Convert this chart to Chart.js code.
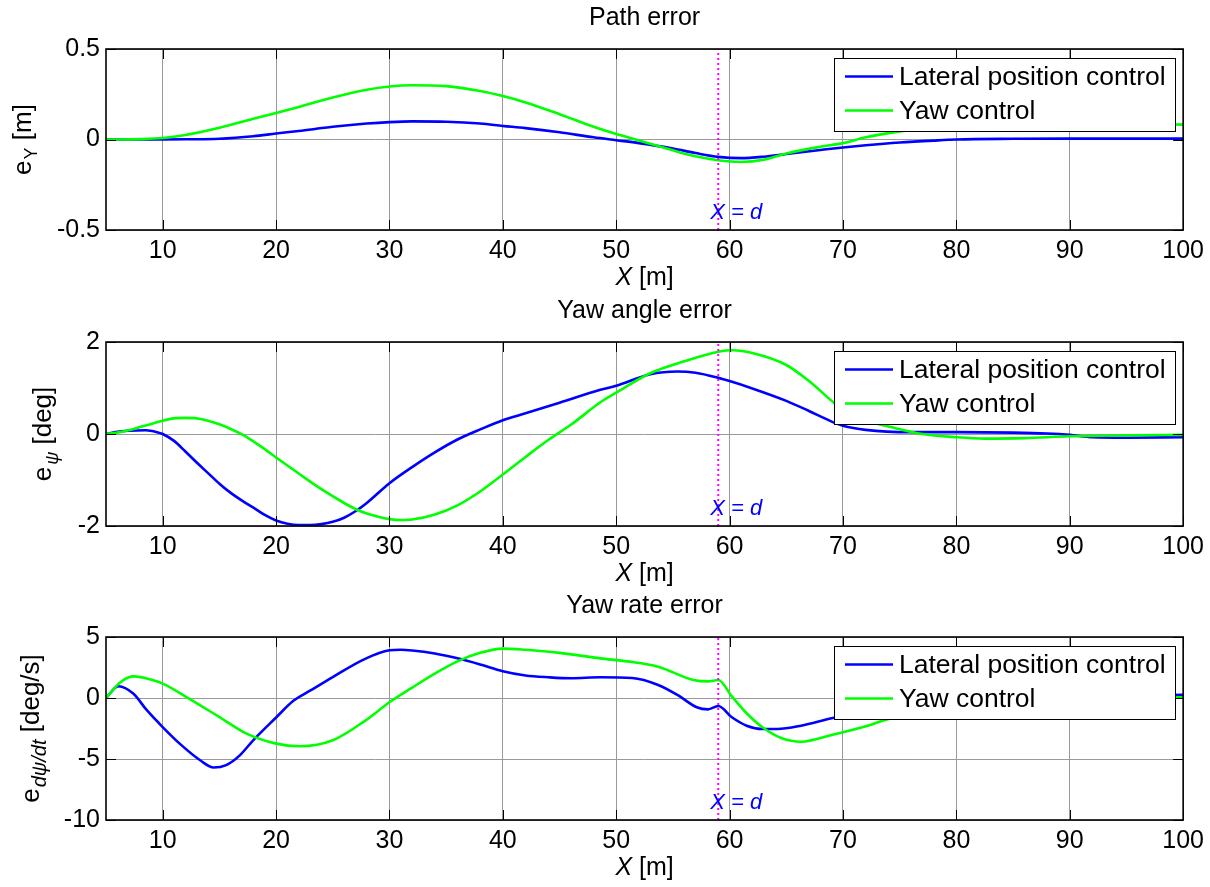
<!DOCTYPE html>
<html>
<head>
<meta charset="utf-8">
<script src="https://cdn.jsdelivr.net/npm/chart.js@4.4.1/dist/chart.umd.min.js"></script>
<style>
html,body{margin:0;padding:0;background:#fff;}
#wrap{position:relative;width:1210px;height:887px;overflow:hidden;background:#fff;}
canvas{position:absolute;left:0;}
</style>
</head>
<body>
<div id="wrap">
<canvas id="c1" width="1210" height="290" style="top:0px"></canvas>
<canvas id="c2" width="1210" height="300" style="top:290px"></canvas>
<canvas id="c3" width="1210" height="297" style="top:590px"></canvas>
</div>
<script>
// ---------- data ----------
const xTicks = [10, 20, 30, 40, 50, 60, 70, 80, 90, 100];
const pathTicks = [-0.5, 0, 0.5];
const angleTicks = [-2, 0, 2];
const rateTicks = [-10, -5, 0, 5];
const seriesNames = ['Lateral position control', 'Yaw control'];
const dPosition = 59;

const pathX = [5, 8, 10, 12, 15, 18, 20, 22, 25, 28, 30, 32, 35, 38, 40, 42, 45, 48, 50, 52, 55, 57, 59, 61, 63, 65, 68, 70, 72, 75, 78, 80, 85, 90, 95, 100];
const pathLateral = [0, 0, 0, 0.001, 0.004, 0.018, 0.033, 0.047, 0.07, 0.088, 0.096, 0.1, 0.098, 0.088, 0.075, 0.063, 0.04, 0.012, -0.004, -0.02, -0.05, -0.075, -0.096, -0.103, -0.095, -0.08, -0.058, -0.044, -0.032, -0.017, -0.006, 0.0, 0.004, 0.005, 0.005, 0.005];
const pathYaw = [0, 0.002, 0.008, 0.025, 0.065, 0.115, 0.147, 0.18, 0.232, 0.275, 0.293, 0.3, 0.295, 0.268, 0.24, 0.205, 0.14, 0.07, 0.03, -0.005, -0.06, -0.093, -0.115, -0.124, -0.112, -0.077, -0.04, -0.02, 0.012, 0.045, 0.068, 0.08, 0.092, 0.092, 0.088, 0.082];

const angleLateralX = [5, 6, 7, 8.5, 9.5, 10, 11, 12, 13, 14, 15, 16, 17, 18, 19, 20, 21, 22, 23, 24, 25, 26, 27, 28, 30, 32, 34, 36, 38, 40, 42, 45, 48.6, 50, 53, 55.4, 57, 59, 60, 62, 65, 67, 69, 70, 72, 76, 80, 85, 88, 90, 92, 95, 100];
const angleLateral = [0, 0.05, 0.07, 0.08, 0.04, 0.0, -0.15, -0.38, -0.62, -0.85, -1.08, -1.28, -1.45, -1.6, -1.76, -1.88, -1.95, -1.98, -1.98, -1.96, -1.91, -1.82, -1.68, -1.5, -1.07, -0.72, -0.4, -0.12, 0.1, 0.3, 0.45, 0.68, 0.96, 1.05, 1.3, 1.36, 1.33, 1.22, 1.15, 0.99, 0.72, 0.5, 0.27, 0.18, 0.09, 0.04, 0.04, 0.03, 0.01, -0.02, -0.07, -0.08, -0.07];
const angleYawX = [5, 6, 7, 8, 9, 10, 11, 12, 13, 14, 15, 16, 17, 18, 19, 20, 22, 24, 26, 27, 28, 29, 30, 31, 32, 34, 36, 38, 40, 42, 44, 46, 48.6, 50, 53, 56, 59, 60.3, 62, 65, 67, 69, 70, 72, 74.4, 77, 80, 82.5, 86, 90, 95, 100];
const angleYaw = [0, 0.03, 0.08, 0.15, 0.22, 0.29, 0.34, 0.35, 0.34, 0.29, 0.21, 0.11, -0.01, -0.16, -0.33, -0.51, -0.86, -1.2, -1.5, -1.63, -1.73, -1.8, -1.85, -1.87, -1.86, -1.75, -1.55, -1.25, -0.88, -0.5, -0.13, 0.2, 0.69, 0.9, 1.32, 1.58, 1.79, 1.82, 1.76, 1.5, 1.15, 0.72, 0.52, 0.3, 0.14, 0.0, -0.07, -0.1, -0.09, -0.05, -0.03, -0.02];

const rateLateralX = [5, 6.1, 7.4, 8.6, 10, 11.5, 13.3, 14.5, 15.6, 16.8, 18, 20, 21.5, 23, 25, 27.9, 30, 31, 32, 34, 36, 38, 40, 42, 44, 46, 48.6, 51.4, 53.7, 55.4, 57.1, 58.1, 59, 60.2, 61.5, 62.9, 64.2, 66.3, 69, 72, 75, 80, 85, 90, 95, 100];
const rateLateral = [0, 0.96, 0.36, -1.0, -2.38, -3.74, -5.1, -5.7, -5.5, -4.7, -3.45, -1.6, -0.25, 0.6, 1.72, 3.23, 3.91, 3.96, 3.9, 3.65, 3.25, 2.75, 2.2, 1.85, 1.7, 1.62, 1.7, 1.64, 1.07, 0.25, -0.76, -0.93, -0.66, -1.58, -2.27, -2.54, -2.54, -2.27, -1.66, -1.1, -0.7, -0.3, -0.05, 0.1, 0.2, 0.27];
const rateYawX = [5, 6.3, 7.45, 8.6, 10, 12.1, 15, 17.4, 20, 22.1, 25, 27.9, 30, 32, 34, 36, 38, 40, 42, 45, 48.6, 51, 53.7, 56.8, 58.1, 59, 60.2, 61.5, 62.9, 64.6, 66.3, 69, 72.4, 73.7, 77, 80, 85, 90, 95, 100];
const rateYaw = [0, 1.31, 1.77, 1.59, 1.18, 0.08, -1.56, -2.92, -3.74, -3.96, -3.47, -1.83, -0.35, 0.85, 2.0, 3.0, 3.7, 4.05, 3.95, 3.7, 3.25, 3.0, 2.57, 1.48, 1.36, 1.48, 0.13, -1.25, -2.4, -3.3, -3.58, -3.03, -2.21, -1.8, -1.1, -0.6, -0.2, 0.0, 0.05, 0.06];

// ---------- styling ----------
const FONT = '"Liberation Sans", Arial, Helvetica, sans-serif';
const COLORS = ['#0000ff', '#00ff00'];
const TICK_SIZE = 25;
const GRID = '#9a9a9a';

function pts(xs, ys) { return xs.map((x, i) => ({ x: x, y: ys[i] })); }

function drawParts(ctx, parts, x, y, align) {
  let w = 0;
  parts.forEach(p => { ctx.font = p.f; p.w = ctx.measureText(p.t).width + (p.gap || 0); w += p.w; });
  let cx = align === 'center' ? x - w / 2 : x;
  parts.forEach(p => { ctx.font = p.f; ctx.fillText(p.t, cx, y + (p.dy || 0)); cx += p.w; });
}

function makePlugin(cfg) {
  return {
    id: 'matlabDecor' + cfg.id,
    afterDraw(chart) {
      const ctx = chart.ctx, a = chart.chartArea, xs = chart.scales.x, ys = chart.scales.y;
      ctx.save();
      // inner tick marks
      const TL = 10;
      ctx.strokeStyle = '#000';
      ctx.lineWidth = 1;
      ctx.beginPath();
      xTicks.forEach(v => {
        const px = Math.round(xs.getPixelForValue(v)) + 0.5;
        ctx.moveTo(px, a.top); ctx.lineTo(px, a.top + TL);
        ctx.moveTo(px, a.bottom); ctx.lineTo(px, a.bottom - TL);
      });
      cfg.yTicks.forEach(v => {
        const py = Math.round(ys.getPixelForValue(v)) + 0.5;
        ctx.moveTo(a.left, py); ctx.lineTo(a.left + TL, py);
        ctx.moveTo(a.right, py); ctx.lineTo(a.right - TL, py);
      });
      ctx.stroke();
      // axes box
      ctx.lineWidth = 1.6;
      ctx.strokeRect(a.left, a.top, a.right - a.left, a.bottom - a.top);

      // X = d label
      ctx.fillStyle = '#0000ff';
      ctx.textBaseline = 'middle';
      ctx.textAlign = 'left';
      const dx = xs.getPixelForValue(dPosition);
      drawParts(ctx, [{ t: 'X = d', f: 'italic 22px ' + FONT }], dx - 8, a.bottom - 17, 'left');

      // legend
      const lx = 834, ly = a.top + 9, lw = 341, lh = 73;
      ctx.fillStyle = '#fff';
      ctx.fillRect(lx, ly, lw, lh);
      ctx.strokeStyle = '#000';
      ctx.lineWidth = 1;
      ctx.strokeRect(lx + 0.5, ly + 0.5, lw, lh);
      seriesNames.forEach((name, i) => {
        const ry = ly + 18.5 + i * 34;
        ctx.strokeStyle = COLORS[i];
        ctx.lineWidth = 2.5;
        ctx.beginPath(); ctx.moveTo(845, ry); ctx.lineTo(893, ry); ctx.stroke();
        ctx.fillStyle = '#000';
        ctx.font = '26.5px ' + FONT;
        ctx.textBaseline = 'middle';
        ctx.fillText(name, 899, ry + 1);
      });

      // title
      ctx.fillStyle = '#000';
      ctx.textAlign = 'center';
      ctx.textBaseline = 'middle';
      ctx.font = '25px ' + FONT;
      ctx.fillText(cfg.title, (a.left + a.right) / 2, a.top - 31);

      // x-axis title
      ctx.textAlign = 'left';
      drawParts(ctx, [{ t: 'X', f: 'italic 25px ' + FONT }, { t: ' [m]', f: '25px ' + FONT }],
        (a.left + a.right) / 2, a.bottom + 48, 'center');

      // y-axis label (rotated)
      ctx.save();
      ctx.translate(cfg.yLabelX, (a.top + a.bottom) / 2);
      ctx.rotate(-Math.PI / 2);
      ctx.textBaseline = 'alphabetic';
      drawParts(ctx, cfg.yLabel, 0, 0, 'center');
      ctx.restore();

      ctx.restore();
    }
  };
}

function makeChart(cfg) {
  const el = document.getElementById(cfg.canvas);
  const H = el.height;
  const datasets = [
    { label: seriesNames[0], data: cfg.series[0], borderColor: COLORS[0], borderWidth: 2.6, pointRadius: 0, cubicInterpolationMode: 'monotone', fill: false, order: 2 },
    { label: seriesNames[1], data: cfg.series[1], borderColor: COLORS[1], borderWidth: 2.6, pointRadius: 0, cubicInterpolationMode: 'monotone', fill: false, order: 1 },
    { label: 'X = d', data: [{ x: dPosition, y: cfg.yMin }, { x: dPosition, y: cfg.yMax }], borderColor: '#ff00ff', borderWidth: 2, borderDash: [2, 3], pointRadius: 0, fill: false, order: 0 }
  ];
  return new Chart(el, {
    type: 'line',
    data: { datasets: datasets },
    options: {
      responsive: false,
      animation: false,
      devicePixelRatio: 1,
      events: [],
      layout: { padding: { left: 0, right: 24, top: cfg.chartTop - cfg.canvasTop, bottom: 0 } },
      plugins: { legend: { display: false }, title: { display: false }, tooltip: { enabled: false } },
      scales: {
        x: {
          type: 'linear', min: 5, max: 100,
          afterBuildTicks: s => { s.ticks = xTicks.map(v => ({ value: v })); },
          afterFit: s => { s.height = cfg.canvasTop + H - cfg.chartBottom; },
          grid: { color: GRID, lineWidth: 1, drawTicks: false },
          border: { display: false },
          ticks: { color: '#000', font: { family: FONT, size: TICK_SIZE }, padding: 6, maxRotation: 0, autoSkip: false, callback: v => String(v) }
        },
        y: {
          type: 'linear', min: cfg.yMin, max: cfg.yMax,
          afterBuildTicks: s => { s.ticks = cfg.yTicks.map(v => ({ value: v })); },
          afterFit: s => { s.width = 106; },
          grid: { color: GRID, lineWidth: 1, drawTicks: false },
          border: { display: false },
          ticks: { color: '#000', font: { family: FONT, size: TICK_SIZE }, padding: 6, autoSkip: false, callback: v => String(v) }
        }
      }
    },
    plugins: [makePlugin(cfg)]
  });
}

const LBL = '26px ' + FONT, SUB = '18px ' + FONT, SUBI = 'italic 18px ' + FONT, SUBI3 = 'italic 20px ' + FONT;

makeChart({
  id: 1, canvas: 'c1', canvasTop: 0, chartTop: 49, chartBottom: 230,
  yMin: -0.5, yMax: 0.5, yTicks: pathTicks, title: 'Path error', yLabelX: 31,
  yLabel: [{ t: 'e', f: LBL, gap: 1 }, { t: 'Y', f: SUB, dy: 6 }, { t: ' [m]', f: LBL }],
  series: [pts(pathX, pathLateral), pts(pathX, pathYaw)]
});
makeChart({
  id: 2, canvas: 'c2', canvasTop: 290, chartTop: 342, chartBottom: 526,
  yMin: -2, yMax: 2, yTicks: angleTicks, title: 'Yaw angle error', yLabelX: 51,
  yLabel: [{ t: 'e', f: LBL, gap: 2 }, { t: 'ψ', f: SUBI, dy: 7 }, { t: ' [deg]', f: LBL }],
  series: [pts(angleLateralX, angleLateral), pts(angleYawX, angleYaw)]
});
makeChart({
  id: 3, canvas: 'c3', canvasTop: 590, chartTop: 637, chartBottom: 820,
  yMin: -10, yMax: 5, yTicks: rateTicks, title: 'Yaw rate error', yLabelX: 39,
  yLabel: [{ t: 'e', f: LBL, gap: 1 }, { t: 'dψ/dt', f: SUBI3, dy: 7 }, { t: ' [deg/s]', f: LBL }],
  series: [pts(rateLateralX, rateLateral), pts(rateYawX, rateYaw)]
});
</script>
</body>
</html>
